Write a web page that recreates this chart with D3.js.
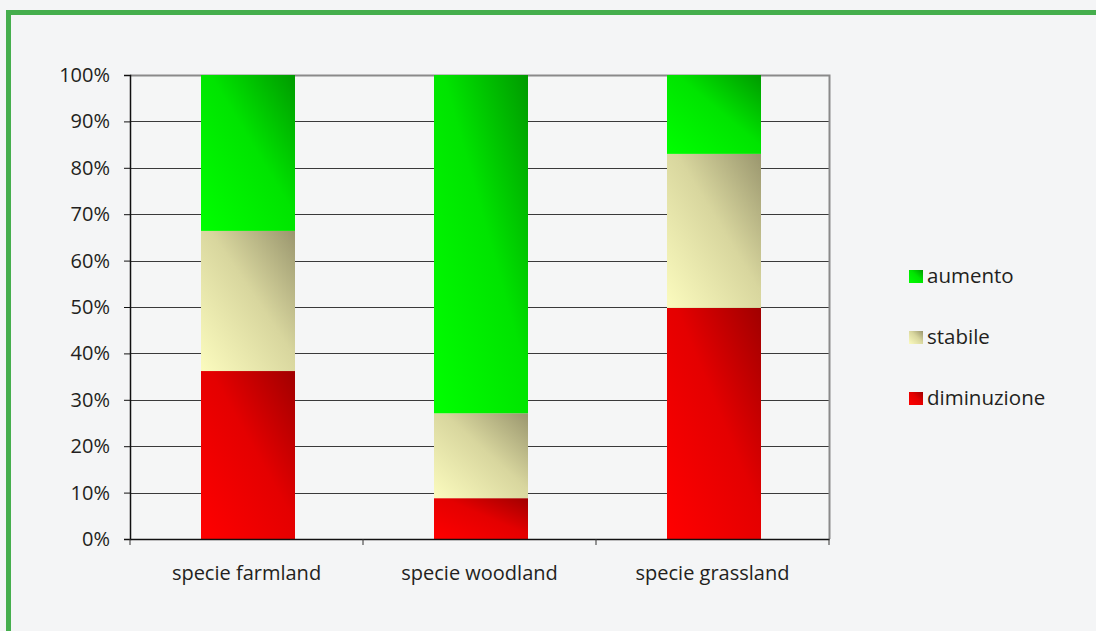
<!DOCTYPE html>
<html>
<head>
<meta charset="utf-8">
<script src="https://cdn.jsdelivr.net/npm/d3@7"></script>
<style>
  html, body { margin: 0; padding: 0; background: #f4f5f6; }
  svg { display: block; }
  text { font-family: "Open Sans", "Lato", sans-serif; fill: #231f20; }
</style>
</head>
<body>
<svg id="chart" width="1096" height="631"></svg>
<script>
// Categories and stacked shares (percent), bottom to top
const categories = ["specie farmland", "specie woodland", "specie grassland"];
const diminuzione = [36.2, 8.8, 49.8];
const stabile = [30.2, 18.3, 33.2];
const aumento = [33.6, 72.9, 17.0];
const seriesNames = ["diminuzione", "stabile", "aumento"];
const tickValues = [0, 10, 20, 30, 40, 50, 60, 70, 80, 90, 100];

const svg = d3.select("#chart");
const W = 1096, H = 631;

// Diagonal gradients per series (light bottom-left to dark top-right)
const gradStops = {
  diminuzione: [["0", "#ff0000"], ["0.55", "#e40000"], ["1", "#a00000"]],
  stabile: [["0", "#fbfbbe"], ["0.55", "#d8d69e"], ["1", "#9a966e"]],
  aumento: [["0", "#00ff00"], ["0.55", "#00e400"], ["1", "#009a00"]]
};
const defs = svg.append("defs");
Object.entries(gradStops).forEach(([k, stops]) => {
  const g = defs.append("linearGradient").attr("id", "g-" + k)
    .attr("x1", "0").attr("y1", "1").attr("x2", "1").attr("y2", "0");
  stops.forEach(([o, c]) => g.append("stop").attr("offset", o).attr("stop-color", c));
});

// Frame
svg.append("rect").attr("x", 0).attr("y", 0).attr("width", W).attr("height", H).attr("fill", "#f4f5f6");
svg.append("rect").attr("x", 6).attr("y", 10).attr("width", W - 6).attr("height", 5).attr("fill", "#45ae4d");
svg.append("rect").attr("x", 6).attr("y", 10).attr("width", 5).attr("height", H - 10).attr("fill", "#45ae4d");

const plot = { left: 130, right: 829, top: 75, bottom: 539 };

const x = d3.scaleBand().domain(categories).range([plot.left, plot.right]).paddingInner(0).paddingOuter(0);
const y = d3.scaleLinear().domain([0, 100]).range([plot.bottom, plot.top]);
const barW = 94;
const barShift = 1.5;

// Plot background
svg.append("rect").attr("x", plot.left).attr("y", plot.top)
  .attr("width", plot.right - plot.left).attr("height", plot.bottom - plot.top)
  .attr("fill", "#f5f6f6");

// Gridlines
svg.append("g").selectAll("line").data(tickValues.filter(d => d > 0 && d < 100)).join("line")
  .attr("x1", plot.left).attr("x2", plot.right)
  .attr("y1", d => Math.round(y(d)) + 0.5).attr("y2", d => Math.round(y(d)) + 0.5)
  .attr("stroke", "#3a3a3a").attr("stroke-width", 1);

// Plot border top/right
svg.append("path")
  .attr("d", `M${plot.left},${plot.top + 0.5}H${plot.right + 0.5}V${plot.bottom}`)
  .attr("fill", "none").attr("stroke", "#8a8a8a").attr("stroke-width", 2);

// Stacked bars
const rows = categories.map((c, i) => ({ cat: c, diminuzione: diminuzione[i], stabile: stabile[i], aumento: aumento[i] }));
const stack = d3.stack().keys(seriesNames)(rows);
svg.append("g").selectAll("g").data(stack).join("g")
  .attr("fill", d => `url(#g-${d.key})`)
  .selectAll("rect").data(d => d).join("rect")
  .attr("x", d => x(d.data.cat) + x.bandwidth() / 2 - barW / 2 + barShift)
  .attr("width", barW)
  .attr("y", d => y(d[1]))
  .attr("height", d => y(d[0]) - y(d[1]));

// Y axis
const yAxis = d3.axisLeft(y).tickValues(tickValues).tickFormat(d => d + "%").tickSize(6).tickPadding(14);
const gy = svg.append("g").attr("transform", `translate(${plot.left},0)`).call(yAxis);
gy.attr("font-size", null).attr("font-family", null);
gy.select(".domain").attr("stroke", "#111").attr("stroke-width", 1.5);
gy.selectAll(".tick line").attr("stroke", "#111");
gy.selectAll(".tick text").style("font-size", "20px").style("font-weight", 500).attr("fill", "#231f20");

// X axis
const xAxis = d3.axisBottom(x).tickSize(0).tickPadding(27);
const gx = svg.append("g").attr("transform", `translate(0,${plot.bottom})`).call(xAxis);
gx.attr("font-size", null).attr("font-family", null);
gx.select(".domain").attr("stroke", "#111").attr("stroke-width", 1.5);
gx.selectAll(".tick text").style("font-size", "20px").attr("fill", "#231f20");
// Category separators on x axis
const seps = [plot.left].concat(categories.map(c => x(c) + x.bandwidth()));
gx.selectAll(".sep").data(seps).join("line").attr("class", "sep")
  .attr("x1", d => d).attr("x2", d => d).attr("y1", 0).attr("y2", 6)
  .attr("stroke", "#333").attr("stroke-width", 1);

// Legend (top-to-bottom: aumento, stabile, diminuzione)
const legendItems = ["aumento", "stabile", "diminuzione"];
const lg = svg.append("g").attr("transform", "translate(909,270)");
const li = lg.selectAll("g").data(legendItems).join("g")
  .attr("transform", (d, i) => `translate(0,${i * 61})`);
li.append("rect").attr("width", 14).attr("height", 13).attr("fill", d => `url(#g-${d})`);
li.append("text").attr("x", 18).attr("y", 6).attr("dy", "0.35em")
  .style("font-size", "20.5px").style("font-weight", 500).text(d => d);
</script>
</body>
</html>
